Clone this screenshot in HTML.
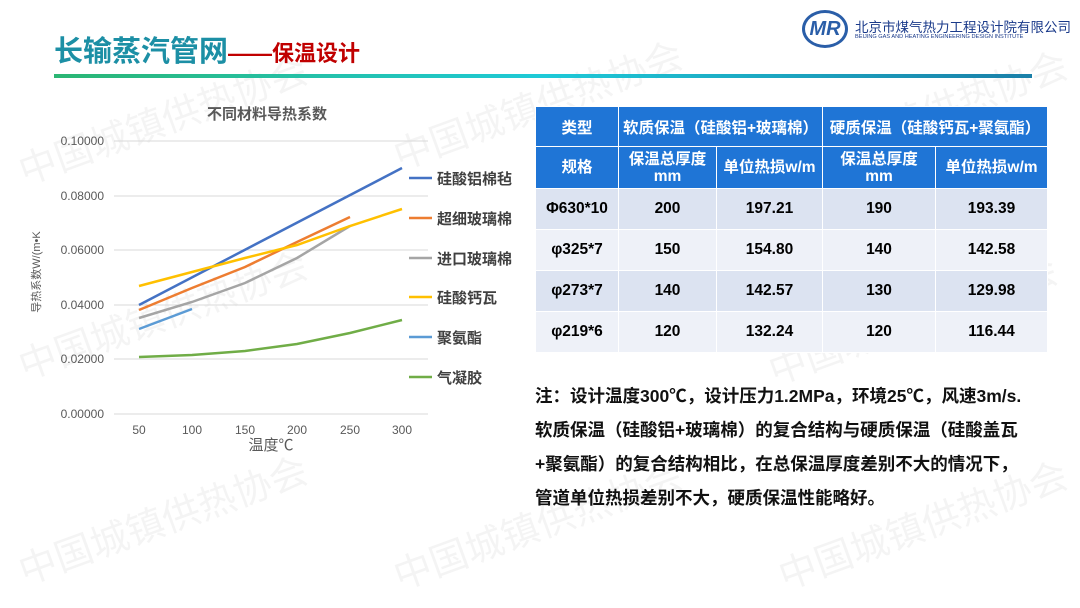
<!DOCTYPE html><html><head><meta charset="utf-8"><style>
body{margin:0;width:1080px;height:608px;background:#fff;font-family:"Liberation Sans","Noto Sans CJK SC",sans-serif;position:relative;overflow:hidden}
.a{position:absolute;white-space:nowrap}
table{position:absolute;left:535px;top:106px;border-collapse:collapse;font-weight:bold;font-size:15.5px;text-align:center}
td{border:1px solid #fff;padding:0}
.h{background:#1f75d6;color:#fff}
.r1{background:#dce3f1}.r2{background:#eef1f8}
.wm{position:absolute;color:rgba(0,0,0,0.045);font-size:38px;transform:rotate(-20deg);white-space:nowrap}
</style></head><body>
<div class="wm" style="left:10px;top:90px">中国城镇供热协会</div>
<div class="wm" style="left:385px;top:75px">中国城镇供热协会</div>
<div class="wm" style="left:770px;top:85px">中国城镇供热协会</div>
<div class="wm" style="left:10px;top:285px">中国城镇供热协会</div>
<div class="wm" style="left:760px;top:290px">中国城镇供热协会</div>
<div class="wm" style="left:10px;top:490px">中国城镇供热协会</div>
<div class="wm" style="left:385px;top:495px">中国城镇供热协会</div>
<div class="wm" style="left:770px;top:495px">中国城镇供热协会</div>
<div class="a" style="left:54px;top:28px;font-size:29px;font-weight:bold;color:#1c8fa5">长输蒸汽管网<span style="color:#c00000;font-size:22px">——保温设计</span></div>
<div class="a" style="left:54px;top:74px;width:978px;height:4px;background:linear-gradient(90deg,#2bb673,#1ecad8,#1a7fa8)"></div>
<div class="a" style="left:802px;top:10px;width:46px;height:38px;border:3px solid #2a5ea8;border-radius:50%;box-sizing:border-box;color:#2a5ea8;font-style:italic;font-weight:bold;font-size:20px;text-align:center;line-height:32px">MR</div>
<div class="a" style="left:855px;top:16px;font-size:13.5px;color:#1a3a8a">北京市煤气热力工程设计院有限公司</div>
<div class="a" style="left:855px;top:34px;font-size:5.6px;color:#1a3a8a">BEIJING GAS AND HEATING ENGINEERING DESIGN INSTITUTE</div>
<svg class="a" style="left:0;top:0" width="530" height="460" font-family="Liberation Sans,Noto Sans CJK SC,sans-serif">
<text x="267" y="119" font-size="15" font-weight="bold" fill="#595959" text-anchor="middle">不同材料导热系数</text>
<g stroke="#d9d9d9" stroke-width="1">
<line x1="114" x2="428" y1="141" y2="141"/><line x1="114" x2="428" y1="196" y2="196"/><line x1="114" x2="428" y1="250" y2="250"/><line x1="114" x2="428" y1="305" y2="305"/><line x1="114" x2="428" y1="359" y2="359"/><line x1="114" x2="428" y1="414" y2="414"/></g>
<g font-size="12" fill="#595959" text-anchor="end">
<text x="104" y="145">0.10000</text><text x="104" y="200">0.08000</text><text x="104" y="254">0.06000</text><text x="104" y="309">0.04000</text><text x="104" y="363">0.02000</text><text x="104" y="418">0.00000</text></g>
<g font-size="12" fill="#595959" text-anchor="middle">
<text x="139" y="434">50</text><text x="192" y="434">100</text><text x="245" y="434">150</text><text x="297" y="434">200</text><text x="350" y="434">250</text><text x="402" y="434">300</text></g>
<text x="271" y="450" font-size="15" fill="#595959" text-anchor="middle">温度℃</text>
<text transform="translate(40,272) rotate(-90)" font-size="11" fill="#595959" text-anchor="middle">导热系数W/(m•K</text>
<g fill="none" stroke-width="2.5">
<polyline stroke="#4472c4" points="139,305 402,168"/>
<polyline stroke="#ed7d31" points="139,310 192,288 245,267 297,242 350,217"/>
<polyline stroke="#a5a5a5" points="139,318 192,302 245,283 297,258 350,226"/>
<polyline stroke="#ffc000" points="139,286 192,272 245,258 297,245 350,226 402,209"/>
<polyline stroke="#5b9bd5" points="139,329 192,309"/>
<polyline stroke="#70ad47" points="139,357 192,355 245,351 297,344 350,333 402,320"/>
</g>
<g stroke-width="2.5"><line x1="409" x2="432" y1="178" y2="178" stroke="#4472c4"/><line x1="409" x2="432" y1="218" y2="218" stroke="#ed7d31"/><line x1="409" x2="432" y1="258" y2="258" stroke="#a5a5a5"/><line x1="409" x2="432" y1="297" y2="297" stroke="#ffc000"/><line x1="409" x2="432" y1="337" y2="337" stroke="#5b9bd5"/><line x1="409" x2="432" y1="377" y2="377" stroke="#70ad47"/></g>
<g font-size="15" font-weight="bold" fill="#404040">
<text x="437" y="184">硅酸铝棉毡</text><text x="437" y="224">超细玻璃棉</text><text x="437" y="264">进口玻璃棉</text><text x="437" y="303">硅酸钙瓦</text><text x="437" y="343">聚氨酯</text><text x="437" y="383">气凝胶</text></g>
</svg>
<table>
<tr class="h" style="height:40px"><td style="width:82px">类型</td><td colspan="2">软质保温（硅酸铝+玻璃棉）</td><td colspan="2">硬质保温（硅酸钙瓦+聚氨酯）</td></tr>
<tr class="h" style="height:42px;line-height:17px"><td>规格</td><td style="width:97px">保温总厚度<br>mm</td><td style="width:105px">单位热损w/m</td><td style="width:112px">保温总厚度<br>mm</td><td style="width:111px">单位热损w/m</td></tr>
<tr class="r1" style="height:41px"><td>Φ630*10</td><td>200</td><td>197.21</td><td>190</td><td>193.39</td></tr>
<tr class="r2" style="height:41px"><td>φ325*7</td><td>150</td><td>154.80</td><td>140</td><td>142.58</td></tr>
<tr class="r1" style="height:41px"><td>φ273*7</td><td>140</td><td>142.57</td><td>130</td><td>129.98</td></tr>
<tr class="r2" style="height:41px"><td>φ219*6</td><td>120</td><td>132.24</td><td>120</td><td>116.44</td></tr>
</table>
<div class="a" style="left:535px;top:379px;font-size:17.5px;font-weight:bold;color:#111;line-height:34px">注：设计温度300℃，设计压力1.2MPa，环境25℃，风速3m/s.<br>软质保温（硅酸铝+玻璃棉）的复合结构与硬质保温（硅酸盖瓦<br>+聚氨酯）的复合结构相比，在总保温厚度差别不大的情况下，<br>管道单位热损差别不大，硬质保温性能略好。</div>
</body></html>
